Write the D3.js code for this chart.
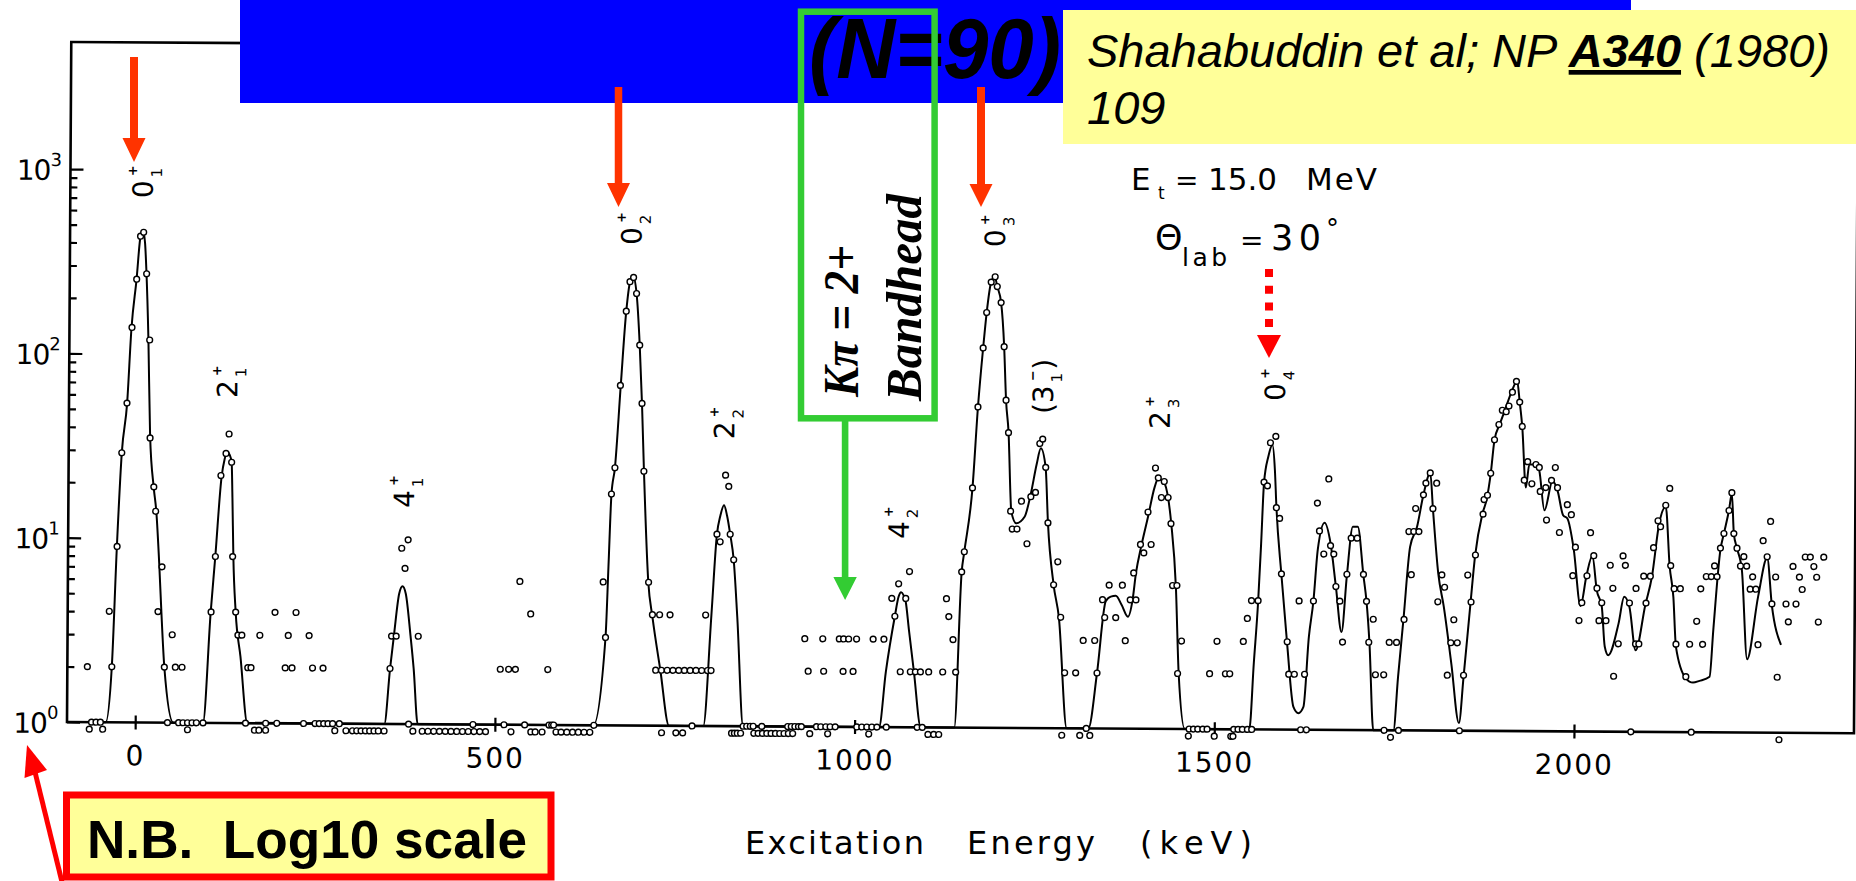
<!DOCTYPE html>
<html>
<head>
<meta charset="utf-8">
<script src="https://cdn.jsdelivr.net/npm/d3@7"></script>
<style>
  html, body { margin: 0; padding: 0; background: #fff; overflow: hidden; }
  svg { display: block; }
</style>
</head>
<body>
<svg id="chart" width="1856" height="881"></svg>
<script>
// ---- Measured spectrum: [excitation energy (keV), counts]; 0 = empty channel ----
const spectrumPoints = [
  [-67,2],[-63.8,0],[-60.7,1],[-54.5,1],[-48.4,1],[-45.2,0],[-37,4],[-33,2],[-26.7,9],[-21,29],[-14.2,54],[-7.9,139],[-1.8,254],[3.2,435],[7.5,457],[12,272],[16.8,119],[18.2,35],[23.8,19],[26.6,14],[30.7,4],[35.9,7],[40,2],[44.8,1],[50.7,3],[55.3,2],[60.3,1],[64.6,2],
  [66.4,1],[72.7,0],[72.7,1],[79,1],[85,1],[94.2,1],[104.5,4],[110,8],[117,22],[123.9,29],[128,37],[131.8,26],[134,8],[138.7,4],[142,3],[147.5,3],[153.3,1],[156,2],[160.5,2],[165.8,0],[172,0],[181.3,0],
  [172.5,3],[181.3,1],[193.4,4],[196.8,1],[208,2],[212,3],[217.5,2],[222.6,4],[234,1],[241,3],[246,2],[250,1],[255.8,1],[260.6,2],[262,1],[268,1],[274.4,1],[277.5,0],[283.7,1],[293,0],[302,0],[308,0],[314,0],[320,0],[326,0],[332,0],[338,0],[346,0],
  [353.7,2],[355.6,3],[362,3],[369,9],[373.7,7],[377.8,10],[380,1],[386,0],[392.7,3],[399,0],[407,0],[415,0],[423,0],[431,0],[439,0],[447,0],[455,0],[463,0],[469.5,1],[471,0],[479,0],[487,0],
  [507,2],[512.6,1],[518.6,2],[522.4,0],[528,2],[533.5,6],[541.3,1],[548.8,4],[550,0],[556,0],[565.6,0],[573,2],[575.2,1],[579,1],[581.6,1],[585,0],[592,0],[600,0],[608,0],[616,0],[624,0],[632,0],
  [637.5,1],[649.3,6],[653,3],[660,18],[664.6,25],[671.5,70],[679,177],[683.9,256],[688.9,270],[693.2,221],[698,116],[701.7,56],[704.9,24],[712.4,6],[718,4],[723,2],[728,4],[731,2],[731.7,0],[739,2],[742.5,4],[747,2],[751.6,0],[755,2],[761,0],[763,2],[771,2],[774,1],[779,2],[787,2],[792,4],[795,2],[800,2],
  [807,11],[811.5,10],[818.5,23],[823,20],[825.4,11],[830.5,8],[829,0],[833,0],[837,0],[841.6,0],[845,1],[850,1],[855,1],[859,1],[860,0],[866,0],[871,1],[872,0],[878,0],[884,0],[890,0],[896,0],[902,0],[907,1],[908,0],[912,1],[914,0],[917,1],[922,1],[926,1],[930,3],[935,2],[937.7,0],[947,1],[953,1],[955,3],[956.5,2],[960,1],[962.6,0],[966,1],[973,1],[978,3],[983.5,2],[984,3],[991,3],[997.4,2],[1002,3],[1003,1],[1010,1],[1017,1],[1019.7,0],[1024,1],[1025,3],[1031,1],[1040,3],[1044,1],
  [1050.6,5],[1055,4],[1060,6],[1063,2],[1070,5],[1075,7],[1077,2],[1084,2],[1087,1],[1091,2],[1094,1],[1102,0],[1102.5,2],[1110,0],[1117,0],[1122,2],[1126.6,5],[1130,4],[1136,3],[1140,2],
  [1147.5,7],[1151,9],[1161.8,20],[1168.7,55],[1175.4,115],[1180,179],[1186,262],[1191.5,280],[1194.5,248],[1200,203],[1204.6,117],[1207.7,60],[1211.4,40],
  [1215,15],[1217.4,12],[1224,12],[1230,17],[1238,10],[1243,18],[1249.4,19],[1255,35],[1259,37],[1263.4,26],[1267,13],[1275.4,6],[1281,8],[1285.5,4],[1288,0],[1291.5,2],[1306.8,2],[1313,0],
  [1317,3],[1322,1],[1327,0],[1333,3],[1336.5,2],[1343.5,5],[1346.7,4],[1352.6,6],[1362,4],[1371,6],[1375.5,3],[1382,5],[1386.6,7],[1390,5],[1395.8,10],[1400.5,9],[1406,15],[1410.6,10],[1416,26],[1420,23],[1424.5,18],[1428.3,22],[1433.8,18],[1438,13],[1440.8,6],[1446.8,6],[1448.5,2],[1453.7,3],
  [1464,0],[1465,1],[1471,1],[1477,1],[1484,1],[1490,1],[1493,2],[1500,0],[1503,3],[1515,2],[1521,2],[1523,0],[1526,0],[1527,1],[1533,1],[1539,1],[1539.6,3],[1545,4],[1546,1],[1550.6,5],[1552,1],
  [1559.8,5],[1567,22],[1571.8,21],[1575.6,36],[1583,39],[1584.4,16],[1589,14],[1592,7],[1600.6,3],[1603,2],[1610.8,2],[1616.8,5],[1620,1],[1625,2],[1628,1],[1636.7,5],[1641.4,17],[1644.5,12],[1650.7,9],[1657,23],[1660,10],[1664.6,9],[1667.8,6],[1673.4,5],[1677.5,3],[1683,7],[1688.6,11],[1697,11],[1706,7],[1710.5,5],[1714,3],[1720,4],[1723.5,2],[1735,2],[1736,1],
  [1742.4,3],[1745,0],[1752.6,3],[1756,1],[1762.8,4],[1768.8,12],[1772.5,7],[1775.6,12],[1778,16],[1782.7,12],[1788.7,19],[1792,22],[1798,25],[1802,16],[1807,22],[1809.6,5],[1815,7],[1818.9,6],[1823.4,2],[1828,3],[1832,4],[1837,3],[1840.7,1],[1846,2],[1851,7],[1855.8,5],[1861.5,9],[1871.7,15],[1873,18],[1877.7,19],[1882,25],[1887,38],[1893,46],[1897.6,55],[1903,54],[1906.8,58],[1911.5,69],[1917,79],[1921.7,61],[1925.5,45],[1928.7,23],[1933.3,29],[1939.3,22],[1944.8,28],[1949.5,27],[1951,20],[1958.7,21],[1960,14],[1966.6,23],[1971.8,27],[1975,21],[1978,12],[1988.8,17],[1994.5,15],[1997,7],[2000.4,10],[2006,4],[2009.8,5],[2016.7,7],[2021.3,12],[2026,9],[2030.7,6],[2033.8,4],[2037.5,5],[2043.5,4],[2049,8],[2052.8,6],[2054.6,2],[2060.8,3],[2066.7,9],[2070,8],[2076,5],[2079,1],[2084.8,3],[2085,6],[2089.4,3],[2095.6,7],[2099,5],[2104.8,7],[2109,10],[2115,14],[2118.6,13],[2125.6,17],[2131,21],[2133,8],[2138,6],[2141,3],[2146.6,6],[2155,2],[2160,3],[2163,1],[2169.6,4],[2175,6],[2178,3],[2182.6,7],[2189.6,7],[2194,8],[2197.5,7],[2202,10],[2206.7,12],[2213.6,16],[2217.4,20],[2220.5,12],[2225,10],[2230,8],[2234.6,9],[2238.6,8],[2243.7,6],[2247,7],[2251.6,6],[2255,3],[2261.3,11],[2267,9],[2271.5,14],[2274,5],[2279,7],[2282,2],[2285,0],[2293.6,5],[2297,4],[2303,8],[2307.5,5],[2312,7],[2316,6],[2320,9],[2327,9],[2332,8],[2336,7],[2338.7,4],[2345.7,9]
];

// ---- Fitted line shape: [energy (keV), counts] ----
const fitCurve = [
  [-94,1],
  [-41,1],[-33,2],[-27,9],[-21,29],[-14,54],[-8.6,138],[-2,253],[3.3,437],[6.5,465],[9.5,400],[11.5,290],[15,121],[18.2,36],[23.8,18.7],[27.5,14],[32,7.3],[35.4,4],[40,2],[53,1],
  [94.2,1],[104,4],[109.9,8],[117.9,21.6],[122,27],[125.8,29.5],[129,28.5],[131.8,26],[133.2,16.7],[135,8],[138.7,4],[145.7,2.3],[155.9,1],
  [346.3,1],[353.8,2],[358.8,3],[365.8,5.1],[370.4,5.6],[375,5.1],[382,3],[386.6,2],[392.7,1],
  [636.8,1],[653,3],[656.5,7.3],[660,17.9],[664.6,25],[672,70],[679,177],[684,256],[688,275],[693.2,221],[698,116],[701.7,55.6],[705,24],[712,6],[718,3.9],[729.5,2],[742,1],
  [789.7,1],[800,4],[807,11],[811.5,13.8],[816.6,15.8],[821,13.8],[825.4,11],[830.5,8],[836,3.9],[845,1],
  [1034,1],[1043,2],[1055,4],[1060,5.1],[1063.5,5.4],[1067,5.2],[1070,4.8],[1074.6,3.4],[1082,2],[1092,1],
  [1138.6,1],[1147.5,7],[1151,9],[1161.8,20],[1168.7,55],[1175.4,115],[1180,179],[1186,262],[1191,280],[1194.5,248],[1200,203],[1204.6,117],[1207.7,60],[1211.4,40.5],[1216,14.9],[1223,12.9],[1234.5,14],[1243,18.7],[1250.8,27],[1256.5,33],[1263.3,26],[1267,13],[1275.4,6],[1283,4],[1294.8,1],
  [1325,1],[1336.5,2],[1348,4.9],[1355,5.2],[1362,5.25],[1370,4.7],[1379,4.05],[1385.3,5],[1389.8,7],[1396.7,9.7],[1406,14.1],[1415,20.5],[1420,22.8],[1424,22.5],[1429,21.4],[1438.4,13],[1445.4,5.9],[1450,2],[1459,1],
  [1548.7,1],[1554.4,2.3],[1559.8,4.9],[1563.5,10.2],[1567,21.8],[1572.8,30.3],[1578.4,35],[1582,25.6],[1584.4,16.2],[1592,6.9],[1600.6,2.9],[1609.8,1.33],[1616.8,1.23],[1623.7,1.33],[1630.7,3.2],[1636.7,5],[1642.3,9.5],[1651.5,13.3],[1660,10.3],[1667.8,6],[1676,3.4],[1683,6.9],[1690.8,12.7],[1697.7,12.7],[1706,6.9],[1710.5,5],[1715,2.95],[1721,1],
  [1749,1],[1755,1.95],[1762,4],[1770.6,9.9],[1780,12.7],[1788.7,19],[1798,25],[1802,16],[1810,7.1],[1818,4.7],[1829,2.3],[1840,1.1],[1846,1.95],[1855,4.9],[1861,8.9],[1870.7,15],[1876.7,18.1],[1882,24.8],[1887,38],[1894,46],[1901,54.8],[1910,68.9],[1918,79],[1921.7,61],[1925.5,44.6],[1931,21],[1935.6,28],[1946,28],[1949.5,26],[1957,15.8],[1968,22.8],[1975,20.3],[1983,14.9],[1989,14.3],[1998,9.8],[2008,4.8],[2016,7],[2024,9],[2030.6,5.8],[2037.5,4.8],[2042,2.9],[2047,2.6],[2061,3.86],[2068.6,5.4],[2076,4.76],[2085,2.77],[2098,4.87],[2107,6.95],[2116.6,13.5],[2125.6,16.7],[2131.6,7.9],[2137,5.4],[2141,2.9],[2155,1.96],[2165,1.86],[2174,1.9],[2188,2],[2192.8,3.6],[2202,9.8],[2206.7,12],[2213.6,16.1],[2217.4,19.8],[2220.5,12],[2225,10],[2232,7.6],[2240,2.5],[2254.9,5.5],[2267,8.9],[2274,4.9],[2287,3]
];

// ---- Axis ticks ----
const xTickValues = [0, 500, 1000, 1500, 2000];
const xTickLabels = ["0", "500", "1000", "1500", "2000"];
const yTickValues = [1, 10, 100, 1000];
const yTickExponents = ["0", "1", "2", "3"];
const yMinorValues = [2,3,4,5,6,7,8,9,20,30,40,50,60,70,80,90,200,300,400,500,600,700,800,900];

// ---- Level assignments: label, energy (keV), count level where the label starts ----
const levelNames   = ["0", "2", "4", "0", "2", "4", "0", "(3", "2", "0"];
const levelSups    = ["+", "+", "+", "+", "+", "+", "+", "\u2212", "+", "+"];
const levelSubs    = ["1", "1", "1", "2", "2", "2", "3", "1", "3", "4"];
const levelClose   = ["", "", "", "", "", "", "", ")", "", ""];
const levelEnergy  = [6, 125, 371.6, 685.7, 816.4, 1059.6, 1191, 1259, 1421.7, 1581.6];
const levelHeight  = [700, 58, 14.9, 405, 36, 10.5, 406, 50.6, 42.4, 60.7];

const LETTER = "'DejaVu Sans', 'Open Sans', sans-serif";
const LW = 400;
const svg = d3.select("#chart");

const xScale = d3.scaleLinear().domain([0, 2000]).range([135.2, 1574.0]);
const yScale = d3.scaleLog().domain([1, 1000]).range([722, 169.1]);
const plotLeft = 67, plotRight = 1854, plotTop = 42;
const yBase = yScale(1);

// the scanned figure sits slightly askew on the page
const plot = svg.append("g").attr("transform", "rotate(0.36 67 722)");

// frame
plot.append("path")
  .attr("d", `M${plotLeft},${yBase}V${plotTop}H${plotRight}V${yBase}Z`)
  .attr("fill", "none").attr("stroke", "#000").attr("stroke-width", 2.6);

// y ticks (inward)
const yMajorAxis = d3.axisRight(yScale).tickValues(yTickValues).tickSize(13).tickFormat("");
const yMinorAxis = d3.axisRight(yScale).tickValues(yMinorValues).tickSize(7).tickFormat("");
[yMajorAxis, yMinorAxis].forEach(ax => {
  plot.append("g").attr("transform", `translate(${plotLeft},0)`).call(ax)
    .call(g => g.select(".domain").remove())
    .call(g => g.selectAll("line").attr("stroke", "#000").attr("stroke-width", 2.2));
});

// y tick labels 10^n
yTickValues.forEach((v, i) => {
  plot.append("text").attr("x", 47).attr("y", yScale(v) + 11)
    .attr("font-family", LETTER).attr("font-weight", LW).attr("font-size", 28)
    .attr("text-anchor", "end").attr("letter-spacing", -1).text("10");
  plot.append("text").attr("x", 47).attr("y", yScale(v) - 3)
    .attr("font-family", LETTER).attr("font-weight", LW).attr("font-size", 18).text(yTickExponents[i]);
});

// x ticks: small crosses on the baseline
const xUp = d3.axisBottom(xScale).tickValues(xTickValues).tickSize(-7).tickFormat("");
const xDown = d3.axisBottom(xScale).tickValues(xTickValues).tickSize(7).tickPadding(16)
  .tickFormat((d, i) => xTickLabels[i]);
[xUp, xDown].forEach(ax => {
  plot.append("g").attr("transform", `translate(0,${yBase})`).call(ax)
    .call(g => g.select(".domain").remove())
    .call(g => g.selectAll("line").attr("stroke", "#000").attr("stroke-width", 2.2))
    .call(g => g.selectAll("text").attr("font-family", LETTER).attr("font-weight", LW)
      .attr("font-size", 28).attr("letter-spacing", 2).attr("fill", "#000"));
});

// fitted curve
const line = d3.line()
  .x(d => xScale(d[0]))
  .y(d => yScale(d[1]))
  .curve(d3.curveMonotoneX);
plot.append("path").datum(fitCurve).attr("d", line)
  .attr("fill", "none").attr("stroke", "#000").attr("stroke-width", 2)
  .attr("stroke-linejoin", "round");

// data points (empty channels drawn just under the baseline)
plot.append("g").selectAll("circle").data(spectrumPoints).join("circle")
  .attr("cx", d => xScale(d[0]))
  .attr("cy", d => d[1] > 0 ? yScale(d[1]) : yBase + 7)
  .attr("r", 2.9)
  .attr("fill", "#fff").attr("stroke", "#000").attr("stroke-width", 1.4);

// level labels, written sideways
levelNames.forEach((name, i) => {
  const g = plot.append("g")
    .attr("transform", `translate(${xScale(levelEnergy[i]) + 10},${yScale(levelHeight[i])}) rotate(-90)`)
    .attr("font-family", LETTER).attr("font-weight", LW).attr("fill", "#000");
  const main = g.append("text").attr("x", 0).attr("y", 0).attr("font-size", 28).text(name);
  const w = main.node().getComputedTextLength();
  g.append("text").attr("x", w + 4).attr("y", -16).attr("font-size", 13).attr("font-weight", 700).text(levelSups[i]);
  const sub = g.append("text").attr("x", w + 3).attr("y", 9).attr("font-size", 15).text(levelSubs[i]);
  if (levelClose[i]) {
    const sw = sub.node().getComputedTextLength();
    g.append("text").attr("x", w + 6 + sw).attr("y", 0).attr("font-size", 28).text(levelClose[i]);
  }
});

// ---- text on the figure outside the rotated frame ----
const fig = svg.append("g").attr("font-family", LETTER).attr("font-weight", LW).attr("fill", "#000");
// axis title
[["Excitation", 745, 179], ["Energy", 967, 128], ["(keV)", 1140, 112]].forEach(([s, x, len]) => {
  fig.append("text").attr("x", x).attr("y", 854).attr("font-size", 32)
    .attr("textLength", len).attr("lengthAdjust", "spacing").text(s);
});
// beam energy and angle
fig.append("text").attr("x", 1131).attr("y", 190).attr("font-size", 31).text("E");
fig.append("text").attr("x", 1158).attr("y", 199).attr("font-size", 17).text("t");
fig.append("text").attr("x", 1175).attr("y", 190).attr("font-size", 28).text("=");
fig.append("text").attr("x", 1208).attr("y", 190).attr("font-size", 31)
  .attr("textLength", 69).attr("lengthAdjust", "spacing").text("15.0");
fig.append("text").attr("x", 1306).attr("y", 190).attr("font-size", 31)
  .attr("textLength", 71).attr("lengthAdjust", "spacing").text("MeV");
fig.append("text").attr("x", 1155).attr("y", 250).attr("font-size", 35).text("\u0398");
fig.append("text").attr("x", 1182).attr("y", 266).attr("font-size", 25)
  .attr("textLength", 45).attr("lengthAdjust", "spacing").text("lab");
fig.append("text").attr("x", 1240).attr("y", 250).attr("font-size", 28).text("=");
fig.append("text").attr("x", 1271).attr("y", 250).attr("font-size", 35)
  .attr("textLength", 50).attr("lengthAdjust", "spacing").text("30");
fig.append("text").attr("x", 1326).attr("y", 238).attr("font-size", 26).text("\u00B0");

// ---- slide annotations ----
const ann = svg.append("g");
const RED = "#ff3300";

// title banner
ann.append("rect").attr("x", 240).attr("y", 0).attr("width", 1391).attr("height", 103).attr("fill", "#0000ff");
ann.append("text").attr("x", 809).attr("y", 78)
  .attr("font-family", "'Liberation Sans', Arial, sans-serif").attr("font-weight", 700)
  .attr("font-style", "italic").attr("font-size", 86)
  .attr("textLength", 252).attr("lengthAdjust", "spacingAndGlyphs").text("(N=90)");

// solid arrows pointing at the 0+ states
function arrow(g, cx, y0, headTop, tip, shaftW, headHalf, color) {
  g.append("path")
    .attr("d", `M${cx - shaftW / 2},${y0}H${cx + shaftW / 2}V${headTop}H${cx + headHalf}L${cx},${tip}L${cx - headHalf},${headTop}H${cx - shaftW / 2}Z`)
    .attr("fill", color);
}
arrow(ann, 134, 57, 138, 162, 8, 11.5, RED);
arrow(ann, 618.5, 87, 183, 207, 7.5, 11.5, RED);
arrow(ann, 981, 87, 184, 207, 8, 11.5, RED);

// dashed arrow for the fourth 0+ state
ann.append("line").attr("x1", 1269).attr("x2", 1269).attr("y1", 269).attr("y2", 329)
  .attr("stroke", "#ff0000").attr("stroke-width", 8).attr("stroke-dasharray", "8 8.7");
ann.append("path").attr("d", "M1257,335H1281L1269,358Z").attr("fill", "#ff0000");

// K = 2+ band head box
const GREEN = "#33cc33";
ann.append("rect").attr("x", 801).attr("y", 11.7).attr("width", 133.6).attr("height", 406.6)
  .attr("fill", "none").attr("stroke", GREEN).attr("stroke-width", 6.5);
ann.append("path").attr("d", "M841.8,421H848.4V577H856.8L845.1,600L833.4,577H841.8Z").attr("fill", GREEN);
ann.append("text").attr("transform", "translate(858,397) rotate(-90)")
  .attr("font-family", "'Liberation Serif', 'Times New Roman', serif").attr("font-weight", 700)
  .attr("font-style", "italic").attr("font-size", 50)
  .attr("textLength", 152).attr("lengthAdjust", "spacingAndGlyphs").text("K\u03C0 = 2+");
ann.append("text").attr("transform", "translate(921,401) rotate(-90)")
  .attr("font-family", "'Liberation Serif', 'Times New Roman', serif").attr("font-weight", 700)
  .attr("font-style", "italic").attr("font-size", 50)
  .attr("textLength", 207).attr("lengthAdjust", "spacingAndGlyphs").text("Bandhead");

// reference box
ann.append("rect").attr("x", 1063).attr("y", 10).attr("width", 793).attr("height", 134).attr("fill", "#ffff99");
const ref = ann.append("text").attr("font-family", "'Liberation Sans', Arial, sans-serif")
  .attr("font-style", "italic").attr("font-size", 47).attr("fill", "#000");
ref.append("tspan").attr("x", 1087).attr("y", 67).text("Shahabuddin et al; NP ");
ref.append("tspan").attr("font-weight", 700).style("text-decoration", "underline").text("A340");
ref.append("tspan").text(" (1980)");
ann.append("text").attr("x", 1087).attr("y", 124)
  .attr("font-family", "'Liberation Sans', Arial, sans-serif")
  .attr("font-style", "italic").attr("font-size", 47).text("109");

// log-scale note
ann.append("rect").attr("x", 66.5).attr("y", 795).attr("width", 484.5).attr("height", 82)
  .attr("fill", "#ffff99").attr("stroke", "#ff0000").attr("stroke-width", 7);
ann.append("text").attr("x", 87).attr("y", 858)
  .attr("font-family", "'Liberation Sans', Arial, sans-serif").attr("font-weight", 700)
  .attr("font-size", 53).style("white-space", "pre")
  .attr("textLength", 440).attr("lengthAdjust", "spacingAndGlyphs").text("N.B.  Log10 scale");
ann.append("line").attr("x1", 62).attr("y1", 882).attr("x2", 35).attr("y2", 772)
  .attr("stroke", "#ff0000").attr("stroke-width", 5);
ann.append("path").attr("d", "M27,745L47,770L24.5,778Z").attr("fill", "#ff0000");
</script>
</body>
</html>
